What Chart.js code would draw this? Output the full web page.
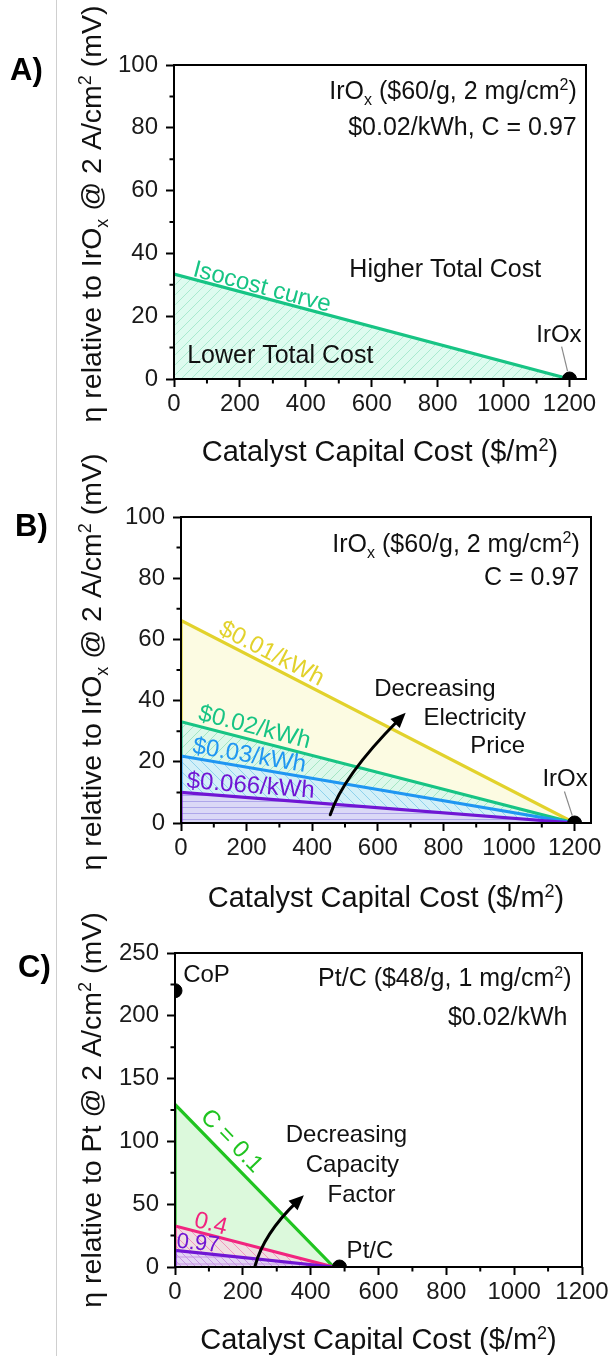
<!DOCTYPE html>
<html><head><meta charset="utf-8">
<script src="https://cdn.jsdelivr.net/npm/chart.js@4.4.0/dist/chart.umd.min.js"></script>
<style>
html,body{margin:0;padding:0;background:#fff;}
#wrap{position:relative;width:614px;height:1356px;overflow:hidden;background:#fff;}
#wrap canvas{position:absolute;left:0;top:0;}
#vline{position:absolute;left:56px;top:0;width:1px;height:1356px;background:#cfcfcf;}
</style></head>
<body><div id="wrap"><div id="vline"></div>
<canvas id="cA" width="614" height="1356"></canvas>
<canvas id="cB" width="614" height="1356"></canvas>
<canvas id="cC" width="614" height="1356"></canvas>
</div>
<script>
// ---------------- DATA ----------------
const xTicksAB = [0, 200, 400, 600, 800, 1000, 1200];
const xTickLabelsAB = ['0', '200', '400', '600', '800', '1000', '1200'];
const xMinorAB = [100, 300, 500, 700, 900, 1100];
const yTicksAB = [0, 20, 40, 60, 80, 100];
const yTickLabelsAB = ['0', '20', '40', '60', '80', '100'];
const yMinorAB = [10, 30, 50, 70, 90];
const xTicksC = [0, 200, 400, 600, 800, 1000, 1200];
const xTickLabelsC = ['0', '200', '400', '600', '800', '1000', '1200'];
const xMinorC = [100, 300, 500, 700, 900, 1100];
const yTicksC = [0, 50, 100, 150, 200, 250];
const yTickLabelsC = ['0', '50', '100', '150', '200', '250'];
const yMinorC = [25, 75, 125, 175, 225];

// Panel A: isocost curve
const aCurveLabel = 'Isocost curve';
const aEtaIntercept = [33.4];
const aCostIntercept = [1200];
const aRefName = ['IrOx'];
const aRefCost = [1200];
const aRefEta = [0];

// Panel B: electricity prices
const bPriceLabels = ['$0.01/kWh', '$0.02/kWh', '$0.03/kWh', '$0.066/kWh'];
const bEtaIntercept = [66.2, 33.1, 21.9, 10.0];
const bCostIntercept = [1200, 1200, 1200, 1200];
const bRefName = ['IrOx'];
const bRefCost = [1200];
const bRefEta = [0];

// Panel C: capacity factors
const cCapLabels = ['C = 0.1', '0.4', '0.97'];
const cEtaIntercept = [129.5, 32.7, 13.3];
const cCostIntercept = [468, 468, 468];
const cRefNames = ['CoP', 'Pt/C'];
const cRefCost = [0, 485];
const cRefEta = [220, 0];

// ---------------- STYLE / HELPERS ----------------
const FAM = '"Liberation Sans", Arial, Helvetica, sans-serif';
const TXT = '#111';

function hatch(bg, fg, kind, s) {
  const c = document.createElement('canvas'); c.width = s; c.height = s;
  const g = c.getContext('2d');
  g.fillStyle = bg; g.fillRect(0, 0, s, s);
  g.strokeStyle = fg; g.lineWidth = 1;
  g.beginPath();
  if (kind.indexOf('/') >= 0) { g.moveTo(-1, s + 1); g.lineTo(s + 1, -1); g.moveTo(-2, 2); g.lineTo(2, -2); g.moveTo(s - 2, s + 2); g.lineTo(s + 2, s - 2); }
  if (kind.indexOf('\\') >= 0) { g.moveTo(-1, -1); g.lineTo(s + 1, s + 1); g.moveTo(s - 2, -2); g.lineTo(s + 2, 2); g.moveTo(-2, s - 2); g.lineTo(2, s + 2); }
  if (kind.indexOf('-') >= 0) { g.moveTo(0, s / 2 + 0.5); g.lineTo(s, s / 2 + 0.5); }
  g.stroke();
  return g.createPattern(c, 'repeat');
}

function txt(ctx, s, x, y, o) {
  o = o || {};
  ctx.save();
  ctx.font = (o.bold ? 'bold ' : '') + (o.size || 24) + 'px ' + FAM;
  ctx.fillStyle = o.color || TXT;
  ctx.textAlign = o.align || 'left';
  ctx.textBaseline = 'alphabetic';
  ctx.fillText(s, x, y);
  ctx.restore();
}
function rich(ctx, parts, x, y, size, align, color) {
  ctx.save();
  ctx.fillStyle = color || TXT; ctx.textBaseline = 'alphabetic'; ctx.textAlign = 'left';
  const ms = parts.map(p => { const fs = p[1] === 'n' ? size : Math.round(size * 0.62); ctx.font = fs + 'px ' + FAM; return {t: p[0], k: p[1], fs: fs, w: ctx.measureText(p[0]).width}; });
  const tot = ms.reduce((a, m) => a + m.w, 0);
  let cx = align === 'right' ? x - tot : (align === 'center' ? x - tot / 2 : x);
  ms.forEach(m => { ctx.font = m.fs + 'px ' + FAM; const dy = m.k === 'sub' ? size * 0.24 : (m.k === 'sup' ? -size * 0.34 : 0); ctx.fillText(m.t, cx, y + dy); cx += m.w; });
  ctx.restore();
}
function richRot(ctx, parts, x, yc, size) {
  ctx.save(); ctx.translate(x, yc); ctx.rotate(-Math.PI / 2);
  rich(ctx, parts, 0, 0, size, 'center');
  ctx.restore();
}
function lineLabel(ctx, X, Y, p0, p1, atX, off, text, color, size) {
  const x0 = X(p0[0]), y0 = Y(p0[1]), x1 = X(p1[0]), y1 = Y(p1[1]);
  const ang = Math.atan2(y1 - y0, x1 - x0);
  const t = (atX - p0[0]) / (p1[0] - p0[0]);
  const px = x0 + t * (x1 - x0), py = y0 + t * (y1 - y0);
  ctx.save();
  ctx.translate(px + off * Math.sin(ang), py - off * Math.cos(ang));
  ctx.rotate(ang);
  ctx.font = (size || 24) + 'px ' + FAM; ctx.fillStyle = color; ctx.textBaseline = 'alphabetic';
  ctx.fillText(text, 0, 0);
  ctx.restore();
}
function curvedArrow(ctx, X, Y, pts) {
  const p = pts.map(q => [X(q[0]), Y(q[1])]);
  const p0 = p[0], p1 = p[1], p2 = p[2];
  const ang = Math.atan2(p2[1] - p1[1], p2[0] - p1[0]);
  const hl = 15, hw = 6.5;
  const e = [p2[0] - hl * 0.7 * Math.cos(ang), p2[1] - hl * 0.7 * Math.sin(ang)];
  ctx.save();
  ctx.strokeStyle = '#000'; ctx.fillStyle = '#000'; ctx.lineWidth = 3; ctx.lineCap = 'round';
  ctx.beginPath(); ctx.moveTo(p0[0], p0[1]); ctx.quadraticCurveTo(p1[0], p1[1], e[0], e[1]); ctx.stroke();
  ctx.beginPath(); ctx.moveTo(p2[0], p2[1]);
  ctx.lineTo(p2[0] - hl * Math.cos(ang) + hw * Math.sin(ang), p2[1] - hl * Math.sin(ang) - hw * Math.cos(ang));
  ctx.lineTo(p2[0] - hl * Math.cos(ang) - hw * Math.sin(ang), p2[1] - hl * Math.sin(ang) + hw * Math.cos(ang));
  ctx.closePath(); ctx.fill();
  ctx.restore();
}
function leader(ctx, x0, y0, x1, y1) {
  ctx.save(); ctx.strokeStyle = '#8a8a8a'; ctx.lineWidth = 1.2;
  ctx.beginPath(); ctx.moveTo(x0, y0); ctx.lineTo(x1, y1); ctx.stroke(); ctx.restore();
}

const xTitle = [['Catalyst Capital Cost ($/m', 'n'], ['2', 'sup'], [')', 'n']];
const yTitleIr = [['\u03B7 relative to IrO', 'n'], ['x', 'sub'], [' @ 2 A/cm', 'n'], ['2', 'sup'], [' (mV)', 'n']];
const yTitlePt = [['\u03B7 relative to Pt @ 2 A/cm', 'n'], ['2', 'sup'], [' (mV)', 'n']];
const headIr = [['IrO', 'n'], ['x', 'sub'], [' ($60/g, 2 mg/cm', 'n'], ['2', 'sup'], [')', 'n']];
const headPt = [['Pt/C ($48/g, 1 mg/cm', 'n'], ['2', 'sup'], [')', 'n']];

function axis(max, ticks, labels, isX) {
  return {
    type: 'linear', min: 0, max: max,
    afterBuildTicks: s => { s.ticks = ticks.map(v => ({value: v})); },
    afterFit: s => { if (isX) s.height = 60; else s.width = 60; },
    grid: {display: true, drawOnChartArea: false, drawTicks: true, tickLength: 8, tickWidth: 2, tickColor: '#000', color: 'rgba(0,0,0,0)'},
    border: {display: false},
    ticks: {color: '#1a1a1a', font: {family: FAM, size: 24}, padding: isX ? 3 : 8, maxRotation: 0, minRotation: 0, autoSkip: false,
      callback: (v, i) => labels[i]}
  };
}

function buildChart(id, P) {
  return new Chart(document.getElementById(id), {
    type: 'line',
    data: {datasets: P.datasets},
    options: {
      responsive: false, animation: false, devicePixelRatio: 1,
      layout: {padding: {left: P.area.l - 60, right: 614 - P.area.r, top: P.area.t, bottom: 1356 - P.area.b - 60}},
      plugins: {legend: {display: false}, tooltip: {enabled: false}},
      elements: {line: {tension: 0}},
      scales: {
        x: axis(P.xMax, P.xTicks, P.xLabels, true),
        y: axis(P.yMax, P.yTicks, P.yLabels, false)
      }
    },
    plugins: [{
      id: 'deco',
      afterDatasetsDraw(chart) {
        const ctx = chart.ctx, a = chart.chartArea;
        const xs = chart.scales.x, ys = chart.scales.y;
        const X = v => xs.getPixelForValue(v), Y = v => ys.getPixelForValue(v);
        ctx.save();
        ctx.strokeStyle = '#000'; ctx.lineWidth = 2;
        ctx.strokeRect(a.left, a.top, a.right - a.left, a.bottom - a.top);
        ctx.beginPath();
        P.xMinor.forEach(v => { const px = X(v); ctx.moveTo(px, a.bottom); ctx.lineTo(px, a.bottom + 4.5); });
        P.yMinor.forEach(v => { const py = Y(v); ctx.moveTo(a.left, py); ctx.lineTo(a.left - 4.5, py); });
        ctx.stroke();
        ctx.restore();
        rich(ctx, xTitle, (a.left + a.right) / 2, P.xTitleBase, 29, 'center');
        richRot(ctx, P.yTitle, 101, P.yTitleCenter, 28.5);
        txt(ctx, P.panel[0], P.panel[1], P.panel[2], {bold: true, size: 31, color: '#000'});
        P.draw(ctx, X, Y);
      }
    }]
  });
}

// ---------------- PANEL A ----------------
const greenA = '#17c484';
buildChart('cA', {
  area: {l: 174, r: 586, t: 65, b: 379}, xMax: 1250, yMax: 100,
  xTicks: xTicksAB, xLabels: xTickLabelsAB, yTicks: yTicksAB, yLabels: yTickLabelsAB,
  xMinor: xMinorAB, yMinor: yMinorAB,
  xTitleBase: 461, yTitle: yTitleIr, yTitleCenter: 214, panel: ['A)', 10, 80],
  datasets: [
    {label: aRefName[0], data: aRefCost.map((c, i) => ({x: c, y: aRefEta[i]})), showLine: false,
      pointRadius: 7, pointBackgroundColor: '#000', pointBorderColor: '#000', clip: 0, order: 0},
    {label: aCurveLabel, data: [{x: 0, y: aEtaIntercept[0]}, {x: aCostIntercept[0], y: 0}],
      borderColor: greenA, borderWidth: 3.2, pointRadius: 0, fill: 'origin',
      backgroundColor: hatch('#defbef', '#a9eacf', '/', 10), order: 1}
  ],
  draw(ctx, X, Y) {
    rich(ctx, headIr, X(1222), Y(89.2), 25, 'right');
    txt(ctx, '$0.02/kWh, C = 0.97', X(1222), Y(77.7), {align: 'right', size: 25});
    txt(ctx, 'Higher Total Cost', X(532), Y(32.6), {size: 25});
    txt(ctx, 'Lower Total Cost', X(40), Y(5.0), {size: 25});
    lineLabel(ctx, X, Y, [0, aEtaIntercept[0]], [aCostIntercept[0], 0], 52, 3, aCurveLabel, greenA, 24);
    txt(ctx, aRefName[0], X(1099), Y(11.7));
    leader(ctx, X(1176), Y(10.3), X(1194), Y(2.5));
  }
});

// ---------------- PANEL B ----------------
const bColors = ['#e2d22c', '#17c484', '#1f96f2', '#7016d4'];
const bFills = [
  '#fcfbe2',
  hatch('#dcf8ea', '#a2e6c3', '/', 10),
  hatch('#d3f0f8', '#8fd2ec', '\\', 10),
  hatch('#dbd8f6', '#aea6ea', '-', 6)
];
const bLabelAt = [104, 45, 30, 15];
const bLabelOff = [5, 6, 5, 5];
buildChart('cB', {
  area: {l: 181, r: 591, t: 517, b: 823}, xMax: 1250, yMax: 100,
  xTicks: xTicksAB, xLabels: xTickLabelsAB, yTicks: yTicksAB, yLabels: yTickLabelsAB,
  xMinor: xMinorAB, yMinor: yMinorAB,
  xTitleBase: 907, yTitle: yTitleIr, yTitleCenter: 662, panel: ['B)', 15, 536],
  datasets: [
    {label: bRefName[0], data: bRefCost.map((c, i) => ({x: c, y: bRefEta[i]})), showLine: false,
      pointRadius: 7, pointBackgroundColor: '#000', pointBorderColor: '#000', clip: 0, order: 0}
  ].concat(bEtaIntercept.map((e, i) => ({
    label: bPriceLabels[i],
    data: [{x: 0, y: 0}, {x: 0, y: e}, {x: bCostIntercept[i], y: 0}],
    borderColor: bColors[i], borderWidth: 3.2, borderJoinStyle: 'round', pointRadius: 0,
    fill: 'origin', backgroundColor: bFills[i], order: 10 - i
  }))),
  draw(ctx, X, Y) {
    rich(ctx, headIr, X(1216), Y(88.7), 25, 'right');
    txt(ctx, 'C = 0.97', X(1214), Y(77.8), {align: 'right', size: 25});
    bEtaIntercept.forEach((e, i) => lineLabel(ctx, X, Y, [0, e], [bCostIntercept[i], 0], bLabelAt[i], bLabelOff[i], bPriceLabels[i], bColors[i], 24));
    txt(ctx, 'Decreasing', X(589), Y(41.6));
    txt(ctx, 'Electricity', X(739), Y(32.1));
    txt(ctx, 'Price', X(882), Y(23.0));
    curvedArrow(ctx, X, Y, [[455, 2.7], [494, 15.4], [685, 36.0]]);
    txt(ctx, bRefName[0], X(1102), Y(12.2));
    leader(ctx, X(1169), Y(10.3), X(1193), Y(2.4));
  }
});

// ---------------- PANEL C ----------------
const cColors = ['#20c420', '#f1257f', '#7016d4'];
const cFills = [
  '#dcf9dc',
  hatch('#efdfe2', '#f096bd', '\\', 10),
  hatch('#e3d5f4', '#c796e4', '-\\', 7)
];
const cLabelAt = [55, 50, 2];
const cLabelOff = [8, 4, 3];
const cLabelSize = [24, 24, 22];
buildChart('cC', {
  area: {l: 175, r: 582, t: 953, b: 1267}, xMax: 1200, yMax: 250,
  xTicks: xTicksC, xLabels: xTickLabelsC, yTicks: yTicksC, yLabels: yTickLabelsC,
  xMinor: xMinorC, yMinor: yMinorC,
  xTitleBase: 1349, yTitle: yTitlePt, yTitleCenter: 1110, panel: ['C)', 18, 977],
  datasets: [
    {label: 'ref', data: cRefCost.map((c, i) => ({x: c, y: cRefEta[i]})), showLine: false,
      pointRadius: 7, pointBackgroundColor: '#000', pointBorderColor: '#000', clip: 0, order: 0}
  ].concat(cEtaIntercept.map((e, i) => ({
    label: cCapLabels[i],
    data: [{x: 0, y: 0}, {x: 0, y: e}, {x: cCostIntercept[i], y: 0}],
    borderColor: cColors[i], borderWidth: 3.2, borderJoinStyle: 'round', pointRadius: 0,
    fill: 'origin', backgroundColor: cFills[i], order: 10 - i
  }))),
  draw(ctx, X, Y) {
    rich(ctx, headPt, X(1169), Y(223.4), 25, 'right');
    txt(ctx, '$0.02/kWh', X(1157), Y(192.8), {align: 'right', size: 25});
    txt(ctx, cRefNames[0], X(24), Y(227));
    cEtaIntercept.forEach((e, i) => lineLabel(ctx, X, Y, [0, e], [cCostIntercept[i], 0], cLabelAt[i], cLabelOff[i], cCapLabels[i], cColors[i], cLabelSize[i]));
    txt(ctx, 'Decreasing', X(505.6), Y(99.5), {align: 'center'});
    txt(ctx, 'Capacity', X(523), Y(75.8), {align: 'center'});
    txt(ctx, 'Factor', X(550), Y(51.9), {align: 'center'});
    curvedArrow(ctx, X, Y, [[236, 0.8], [262, 26.6], [380, 57.2]]);
    txt(ctx, cRefNames[1], X(506), Y(7));
  }
});
</script>
</body></html>
